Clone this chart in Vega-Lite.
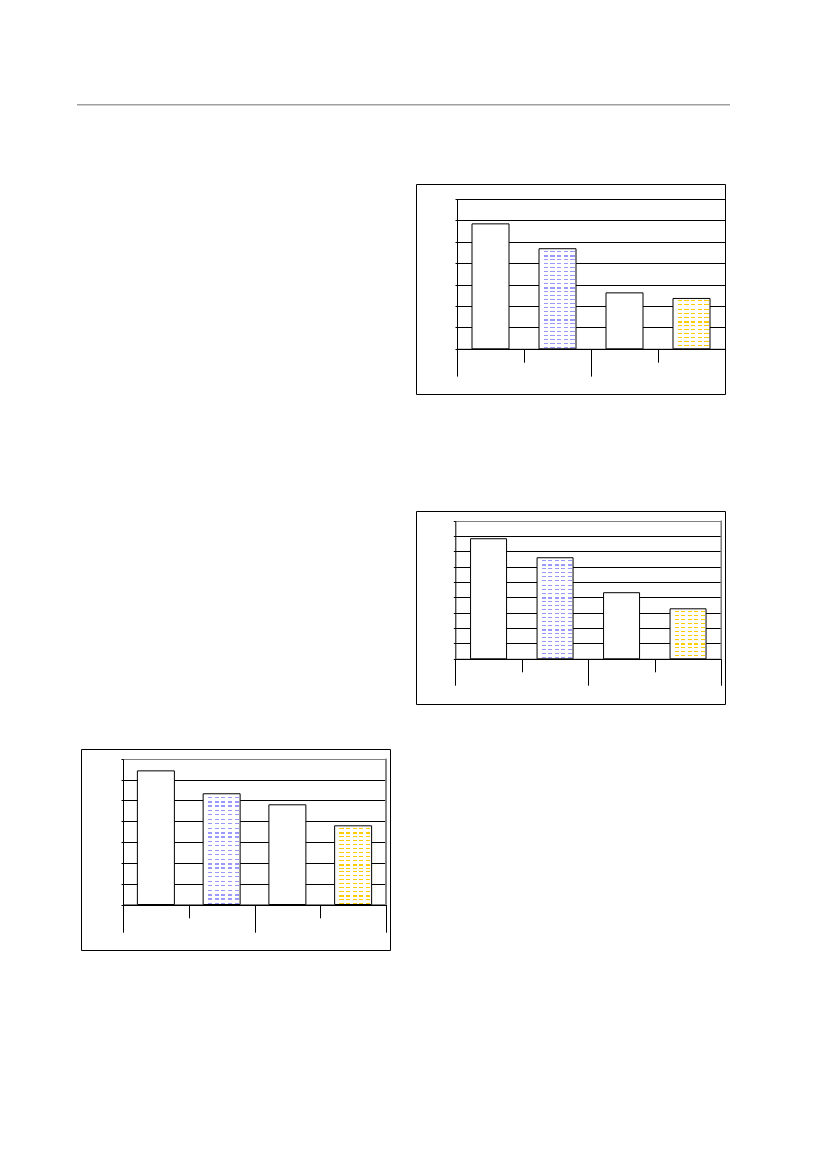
{
  "$schema": "https://vega.github.io/schema/vega-lite/v6.json",
  "padding": 0,
  "background": "white",
  "config": {
    "view": {"stroke": null},
    "axis": {"labels": false, "domainColor": "black", "tickColor": "black", "gridColor": "black", "domainWidth": 1, "tickWidth": 1, "gridWidth": 1}
  },
  "datasets": {
    "c1": [{"slot": 0, "value": 5.83}, {"slot": 1, "value": 4.67}, {"slot": 2, "value": 2.61}, {"slot": 3, "value": 2.35}],
    "c2": [{"slot": 0, "value": 7.83}, {"slot": 1, "value": 6.59}, {"slot": 2, "value": 4.31}, {"slot": 3, "value": 3.26}],
    "c3": [{"slot": 0, "value": 6.42}, {"slot": 1, "value": 5.32}, {"slot": 2, "value": 4.79}, {"slot": 3, "value": 3.78}]
  },
  "spacing": 0,
  "vconcat": [
    {"width": 1, "height": 103.3, "data": {"values": []}, "mark": "rule", "encoding": {}},
    {
      "bounds": "flush",
      "spacing": 0,
      "hconcat": [
        {"width": 77, "height": 1.4, "data": {"values": []}, "mark": "rule", "encoding": {}},
        {"width": 653, "height": 1.4, "data": {"values": []}, "mark": "rule", "encoding": {}, "view": {"fill": "#a0a0a0", "stroke": null}}
      ]
    },
    {"width": 1, "height": 76.6, "data": {"values": []}, "mark": "rule", "encoding": {}},
    {
      "bounds": "flush",
      "spacing": 0,
      "hconcat": [
        {"width": 416, "height": 210, "data": {"values": []}, "mark": "rule", "encoding": {}},
        {
          "width": 309,
          "height": 210,
          "view": {"stroke": "black", "strokeWidth": 1},
          "data": {"name": "c1"},
          "encoding": {
            "x": {
              "field": "slot", "type": "quantitative",
              "scale": {"domain": [-0.5, 3.5], "range": [41, 309], "nice": false, "zero": false, "padding": 0},
              "axis": {"orient": "bottom", "offset": -45.2, "values": [-0.5, 0.5, 1.5, 2.5, 3.5], "title": null, "grid": false,
                "tickSize": {"condition": {"test": "datum.value == 0.5 || datum.value == 2.5", "value": 13.4}, "value": 27.3}}
            },
            "y": {
              "field": "value", "type": "quantitative",
              "scale": {"domain": [0, 7], "range": [164.8, 14.8], "nice": false, "zero": false, "padding": 0},
              "axis": {"orient": "left", "offset": -41, "values": [0, 1, 2, 3, 4, 5, 6, 7], "title": null, "grid": true, "tickSize": 2}
            }
          },
          "layer": [
            {
              "transform": [{"filter": "datum.slot == 1"}],
              "mark": {"type": "bar", "orient": "vertical", "width": 37, "strokeWidth": 0, "fill": {"gradient": "linear", "x1": 0, "y1": 0, "x2": 0, "y2": 1, "stops": [
                {"offset": 0.025, "color": "#fff"}, {"offset": 0.025, "color": "#99f"}, {"offset": 0.035, "color": "#99f"}, {"offset": 0.035, "color": "#fff"},
                {"offset": 0.065, "color": "#fff"}, {"offset": 0.065, "color": "#99f"}, {"offset": 0.085, "color": "#99f"}, {"offset": 0.085, "color": "#fff"},
                {"offset": 0.105, "color": "#fff"}, {"offset": 0.105, "color": "#99f"}, {"offset": 0.115, "color": "#99f"}, {"offset": 0.115, "color": "#fff"},
                {"offset": 0.145, "color": "#fff"}, {"offset": 0.145, "color": "#99f"}, {"offset": 0.155, "color": "#99f"}, {"offset": 0.155, "color": "#fff"},
                {"offset": 0.185, "color": "#fff"}, {"offset": 0.185, "color": "#99f"}, {"offset": 0.195, "color": "#99f"}, {"offset": 0.195, "color": "#fff"},
                {"offset": 0.225, "color": "#fff"}, {"offset": 0.225, "color": "#99f"}, {"offset": 0.235, "color": "#99f"}, {"offset": 0.235, "color": "#fff"},
                {"offset": 0.265, "color": "#fff"}, {"offset": 0.265, "color": "#99f"}, {"offset": 0.275, "color": "#99f"}, {"offset": 0.275, "color": "#fff"},
                {"offset": 0.305, "color": "#fff"}, {"offset": 0.305, "color": "#99f"}, {"offset": 0.315, "color": "#99f"}, {"offset": 0.315, "color": "#fff"},
                {"offset": 0.345, "color": "#fff"}, {"offset": 0.345, "color": "#99f"}, {"offset": 0.355, "color": "#99f"}, {"offset": 0.355, "color": "#fff"},
                {"offset": 0.385, "color": "#fff"}, {"offset": 0.385, "color": "#99f"}, {"offset": 0.405, "color": "#99f"}, {"offset": 0.405, "color": "#fff"},
                {"offset": 0.425, "color": "#fff"}, {"offset": 0.425, "color": "#99f"}, {"offset": 0.435, "color": "#99f"}, {"offset": 0.435, "color": "#fff"},
                {"offset": 0.465, "color": "#fff"}, {"offset": 0.465, "color": "#99f"}, {"offset": 0.475, "color": "#99f"}, {"offset": 0.475, "color": "#fff"},
                {"offset": 0.505, "color": "#fff"}, {"offset": 0.505, "color": "#99f"}, {"offset": 0.515, "color": "#99f"}, {"offset": 0.515, "color": "#fff"},
                {"offset": 0.545, "color": "#fff"}, {"offset": 0.545, "color": "#99f"}, {"offset": 0.555, "color": "#99f"}, {"offset": 0.555, "color": "#fff"},
                {"offset": 0.585, "color": "#fff"}, {"offset": 0.585, "color": "#99f"}, {"offset": 0.595, "color": "#99f"}, {"offset": 0.595, "color": "#fff"},
                {"offset": 0.625, "color": "#fff"}, {"offset": 0.625, "color": "#99f"}, {"offset": 0.635, "color": "#99f"}, {"offset": 0.635, "color": "#fff"},
                {"offset": 0.665, "color": "#fff"}, {"offset": 0.665, "color": "#99f"}, {"offset": 0.675, "color": "#99f"}, {"offset": 0.675, "color": "#fff"},
                {"offset": 0.705, "color": "#fff"}, {"offset": 0.705, "color": "#99f"}, {"offset": 0.725, "color": "#99f"}, {"offset": 0.725, "color": "#fff"},
                {"offset": 0.745, "color": "#fff"}, {"offset": 0.745, "color": "#99f"}, {"offset": 0.755, "color": "#99f"}, {"offset": 0.755, "color": "#fff"},
                {"offset": 0.785, "color": "#fff"}, {"offset": 0.785, "color": "#99f"}, {"offset": 0.795, "color": "#99f"}, {"offset": 0.795, "color": "#fff"},
                {"offset": 0.825, "color": "#fff"}, {"offset": 0.825, "color": "#99f"}, {"offset": 0.835, "color": "#99f"}, {"offset": 0.835, "color": "#fff"},
                {"offset": 0.865, "color": "#fff"}, {"offset": 0.865, "color": "#99f"}, {"offset": 0.875, "color": "#99f"}, {"offset": 0.875, "color": "#fff"},
                {"offset": 0.905, "color": "#fff"}, {"offset": 0.905, "color": "#99f"}, {"offset": 0.915, "color": "#99f"}, {"offset": 0.915, "color": "#fff"},
                {"offset": 0.945, "color": "#fff"}, {"offset": 0.945, "color": "#99f"}, {"offset": 0.955, "color": "#99f"}, {"offset": 0.955, "color": "#fff"},
                {"offset": 0.985, "color": "#fff"}, {"offset": 0.985, "color": "#99f"}, {"offset": 0.995, "color": "#99f"}, {"offset": 0.995, "color": "#fff"}
              ]}}
            },
            {
              "transform": [{"filter": "datum.slot == 3"}],
              "mark": {"type": "bar", "orient": "vertical", "width": 37, "strokeWidth": 0, "fill": {"gradient": "linear", "x1": 0, "y1": 0, "x2": 0, "y2": 1, "stops": [
                {"offset": 0.04, "color": "#fff"}, {"offset": 0.04, "color": "#fc0"}, {"offset": 0.06, "color": "#fc0"}, {"offset": 0.06, "color": "#fff"},
                {"offset": 0.12, "color": "#fff"}, {"offset": 0.12, "color": "#fc0"}, {"offset": 0.14, "color": "#fc0"}, {"offset": 0.14, "color": "#fff"},
                {"offset": 0.20, "color": "#fff"}, {"offset": 0.20, "color": "#fc0"}, {"offset": 0.22, "color": "#fc0"}, {"offset": 0.22, "color": "#fff"},
                {"offset": 0.28, "color": "#fff"}, {"offset": 0.28, "color": "#fc0"}, {"offset": 0.30, "color": "#fc0"}, {"offset": 0.30, "color": "#fff"},
                {"offset": 0.36, "color": "#fff"}, {"offset": 0.36, "color": "#fc0"}, {"offset": 0.38, "color": "#fc0"}, {"offset": 0.38, "color": "#fff"},
                {"offset": 0.44, "color": "#fff"}, {"offset": 0.44, "color": "#fc0"}, {"offset": 0.48, "color": "#fc0"}, {"offset": 0.48, "color": "#fff"},
                {"offset": 0.52, "color": "#fff"}, {"offset": 0.52, "color": "#fc0"}, {"offset": 0.54, "color": "#fc0"}, {"offset": 0.54, "color": "#fff"},
                {"offset": 0.60, "color": "#fff"}, {"offset": 0.60, "color": "#fc0"}, {"offset": 0.62, "color": "#fc0"}, {"offset": 0.62, "color": "#fff"},
                {"offset": 0.68, "color": "#fff"}, {"offset": 0.68, "color": "#fc0"}, {"offset": 0.70, "color": "#fc0"}, {"offset": 0.70, "color": "#fff"},
                {"offset": 0.76, "color": "#fff"}, {"offset": 0.76, "color": "#fc0"}, {"offset": 0.78, "color": "#fc0"}, {"offset": 0.78, "color": "#fff"},
                {"offset": 0.84, "color": "#fff"}, {"offset": 0.84, "color": "#fc0"}, {"offset": 0.86, "color": "#fc0"}, {"offset": 0.86, "color": "#fff"},
                {"offset": 0.92, "color": "#fff"}, {"offset": 0.92, "color": "#fc0"}, {"offset": 0.94, "color": "#fc0"}, {"offset": 0.94, "color": "#fff"}
              ]}}
            },
            {
              "transform": [{"filter": "datum.slot == 1 || datum.slot == 3"}],
              "mark": {"type": "bar", "orient": "vertical", "width": 37, "strokeWidth": 0, "fill": {"gradient": "linear", "x1": 0, "y1": 0, "x2": 1, "y2": 0, "stops": [
                {"offset": 0, "color": "#fff"}, {"offset": 0.13, "color": "#fff"}, {"offset": 0.13, "color": "rgba(255,255,255,0)"}, {"offset": 0.24, "color": "rgba(255,255,255,0)"},
                {"offset": 0.24, "color": "#fff"}, {"offset": 0.31, "color": "#fff"}, {"offset": 0.31, "color": "rgba(255,255,255,0)"}, {"offset": 0.42, "color": "rgba(255,255,255,0)"},
                {"offset": 0.42, "color": "#fff"}, {"offset": 0.49, "color": "#fff"}, {"offset": 0.49, "color": "rgba(255,255,255,0)"}, {"offset": 0.60, "color": "rgba(255,255,255,0)"},
                {"offset": 0.60, "color": "#fff"}, {"offset": 0.67, "color": "#fff"}, {"offset": 0.67, "color": "rgba(255,255,255,0)"}, {"offset": 0.78, "color": "rgba(255,255,255,0)"},
                {"offset": 0.78, "color": "#fff"}, {"offset": 0.85, "color": "#fff"}, {"offset": 0.85, "color": "rgba(255,255,255,0)"}, {"offset": 0.96, "color": "rgba(255,255,255,0)"},
                {"offset": 0.96, "color": "#fff"}, {"offset": 1, "color": "#fff"}
              ]}}
            },
            {
              "mark": {"type": "bar", "orient": "vertical", "width": 37, "stroke": "black", "strokeWidth": 1},
              "encoding": {"fill": {"condition": {"test": "datum.slot == 1 || datum.slot == 3", "value": "transparent"}, "value": "white"}}
            }
          ]
        }
      ]
    },
    {"width": 1, "height": 115, "data": {"values": []}, "mark": "rule", "encoding": {}},
    {
      "bounds": "flush",
      "spacing": 0,
      "hconcat": [
        {"width": 416, "height": 193, "data": {"values": []}, "mark": "rule", "encoding": {}},
        {
          "width": 309,
          "height": 193,
          "view": {"stroke": "black", "strokeWidth": 1},
          "data": {"name": "c2"},
          "encoding": {
            "x": {
              "field": "slot", "type": "quantitative",
              "scale": {"domain": [-0.5, 3.5], "range": [39.3, 305.3], "nice": false, "zero": false, "padding": 0},
              "axis": {"orient": "bottom", "offset": -45.2, "values": [-0.5, 0.5, 1.5, 2.5, 3.5], "title": null, "grid": false,
                "tickSize": {"condition": {"test": "datum.value == 0.5 || datum.value == 2.5", "value": 13}, "value": 26.4}}
            },
            "y": {
              "field": "value", "type": "quantitative",
              "scale": {"domain": [0, 9], "range": [147.8, 9.8], "nice": false, "zero": false, "padding": 0},
              "axis": {"orient": "left", "offset": -39.3, "values": [0, 1, 2, 3, 4, 5, 6, 7, 8, 9], "title": null, "grid": true, "tickSize": 2,
                "gridColor": {"condition": {"test": "datum.value == 9", "value": "#808080"}, "value": "black"}}
            }
          },
          "layer": [
            {
              "mark": {"type": "rule", "color": "#808080", "strokeWidth": 1},
              "encoding": {"x": {"datum": 3.5}, "y": {"datum": 0}, "y2": {"datum": 9}}
            },
            {
              "transform": [{"filter": "datum.slot == 1"}],
              "mark": {"type": "bar", "orient": "vertical", "width": 36, "strokeWidth": 0, "fill": {"gradient": "linear", "x1": 0, "y1": 0, "x2": 0, "y2": 1, "stops": [
                {"offset": 0.025, "color": "#fff"}, {"offset": 0.025, "color": "#99f"}, {"offset": 0.035, "color": "#99f"}, {"offset": 0.035, "color": "#fff"},
                {"offset": 0.065, "color": "#fff"}, {"offset": 0.065, "color": "#99f"}, {"offset": 0.085, "color": "#99f"}, {"offset": 0.085, "color": "#fff"},
                {"offset": 0.105, "color": "#fff"}, {"offset": 0.105, "color": "#99f"}, {"offset": 0.115, "color": "#99f"}, {"offset": 0.115, "color": "#fff"},
                {"offset": 0.145, "color": "#fff"}, {"offset": 0.145, "color": "#99f"}, {"offset": 0.155, "color": "#99f"}, {"offset": 0.155, "color": "#fff"},
                {"offset": 0.185, "color": "#fff"}, {"offset": 0.185, "color": "#99f"}, {"offset": 0.195, "color": "#99f"}, {"offset": 0.195, "color": "#fff"},
                {"offset": 0.225, "color": "#fff"}, {"offset": 0.225, "color": "#99f"}, {"offset": 0.235, "color": "#99f"}, {"offset": 0.235, "color": "#fff"},
                {"offset": 0.265, "color": "#fff"}, {"offset": 0.265, "color": "#99f"}, {"offset": 0.275, "color": "#99f"}, {"offset": 0.275, "color": "#fff"},
                {"offset": 0.305, "color": "#fff"}, {"offset": 0.305, "color": "#99f"}, {"offset": 0.315, "color": "#99f"}, {"offset": 0.315, "color": "#fff"},
                {"offset": 0.345, "color": "#fff"}, {"offset": 0.345, "color": "#99f"}, {"offset": 0.355, "color": "#99f"}, {"offset": 0.355, "color": "#fff"},
                {"offset": 0.385, "color": "#fff"}, {"offset": 0.385, "color": "#99f"}, {"offset": 0.405, "color": "#99f"}, {"offset": 0.405, "color": "#fff"},
                {"offset": 0.425, "color": "#fff"}, {"offset": 0.425, "color": "#99f"}, {"offset": 0.435, "color": "#99f"}, {"offset": 0.435, "color": "#fff"},
                {"offset": 0.465, "color": "#fff"}, {"offset": 0.465, "color": "#99f"}, {"offset": 0.475, "color": "#99f"}, {"offset": 0.475, "color": "#fff"},
                {"offset": 0.505, "color": "#fff"}, {"offset": 0.505, "color": "#99f"}, {"offset": 0.515, "color": "#99f"}, {"offset": 0.515, "color": "#fff"},
                {"offset": 0.545, "color": "#fff"}, {"offset": 0.545, "color": "#99f"}, {"offset": 0.555, "color": "#99f"}, {"offset": 0.555, "color": "#fff"},
                {"offset": 0.585, "color": "#fff"}, {"offset": 0.585, "color": "#99f"}, {"offset": 0.595, "color": "#99f"}, {"offset": 0.595, "color": "#fff"},
                {"offset": 0.625, "color": "#fff"}, {"offset": 0.625, "color": "#99f"}, {"offset": 0.635, "color": "#99f"}, {"offset": 0.635, "color": "#fff"},
                {"offset": 0.665, "color": "#fff"}, {"offset": 0.665, "color": "#99f"}, {"offset": 0.675, "color": "#99f"}, {"offset": 0.675, "color": "#fff"},
                {"offset": 0.705, "color": "#fff"}, {"offset": 0.705, "color": "#99f"}, {"offset": 0.725, "color": "#99f"}, {"offset": 0.725, "color": "#fff"},
                {"offset": 0.745, "color": "#fff"}, {"offset": 0.745, "color": "#99f"}, {"offset": 0.755, "color": "#99f"}, {"offset": 0.755, "color": "#fff"},
                {"offset": 0.785, "color": "#fff"}, {"offset": 0.785, "color": "#99f"}, {"offset": 0.795, "color": "#99f"}, {"offset": 0.795, "color": "#fff"},
                {"offset": 0.825, "color": "#fff"}, {"offset": 0.825, "color": "#99f"}, {"offset": 0.835, "color": "#99f"}, {"offset": 0.835, "color": "#fff"},
                {"offset": 0.865, "color": "#fff"}, {"offset": 0.865, "color": "#99f"}, {"offset": 0.875, "color": "#99f"}, {"offset": 0.875, "color": "#fff"},
                {"offset": 0.905, "color": "#fff"}, {"offset": 0.905, "color": "#99f"}, {"offset": 0.915, "color": "#99f"}, {"offset": 0.915, "color": "#fff"},
                {"offset": 0.945, "color": "#fff"}, {"offset": 0.945, "color": "#99f"}, {"offset": 0.955, "color": "#99f"}, {"offset": 0.955, "color": "#fff"},
                {"offset": 0.985, "color": "#fff"}, {"offset": 0.985, "color": "#99f"}, {"offset": 0.995, "color": "#99f"}, {"offset": 0.995, "color": "#fff"}
              ]}}
            },
            {
              "transform": [{"filter": "datum.slot == 3"}],
              "mark": {"type": "bar", "orient": "vertical", "width": 36, "strokeWidth": 0, "fill": {"gradient": "linear", "x1": 0, "y1": 0, "x2": 0, "y2": 1, "stops": [
                {"offset": 0.04, "color": "#fff"}, {"offset": 0.04, "color": "#fc0"}, {"offset": 0.06, "color": "#fc0"}, {"offset": 0.06, "color": "#fff"},
                {"offset": 0.12, "color": "#fff"}, {"offset": 0.12, "color": "#fc0"}, {"offset": 0.14, "color": "#fc0"}, {"offset": 0.14, "color": "#fff"},
                {"offset": 0.20, "color": "#fff"}, {"offset": 0.20, "color": "#fc0"}, {"offset": 0.22, "color": "#fc0"}, {"offset": 0.22, "color": "#fff"},
                {"offset": 0.28, "color": "#fff"}, {"offset": 0.28, "color": "#fc0"}, {"offset": 0.30, "color": "#fc0"}, {"offset": 0.30, "color": "#fff"},
                {"offset": 0.36, "color": "#fff"}, {"offset": 0.36, "color": "#fc0"}, {"offset": 0.38, "color": "#fc0"}, {"offset": 0.38, "color": "#fff"},
                {"offset": 0.44, "color": "#fff"}, {"offset": 0.44, "color": "#fc0"}, {"offset": 0.46, "color": "#fc0"}, {"offset": 0.46, "color": "#fff"},
                {"offset": 0.52, "color": "#fff"}, {"offset": 0.52, "color": "#fc0"}, {"offset": 0.54, "color": "#fc0"}, {"offset": 0.54, "color": "#fff"},
                {"offset": 0.60, "color": "#fff"}, {"offset": 0.60, "color": "#fc0"}, {"offset": 0.62, "color": "#fc0"}, {"offset": 0.62, "color": "#fff"},
                {"offset": 0.68, "color": "#fff"}, {"offset": 0.68, "color": "#fc0"}, {"offset": 0.72, "color": "#fc0"}, {"offset": 0.72, "color": "#fff"},
                {"offset": 0.76, "color": "#fff"}, {"offset": 0.76, "color": "#fc0"}, {"offset": 0.78, "color": "#fc0"}, {"offset": 0.78, "color": "#fff"},
                {"offset": 0.84, "color": "#fff"}, {"offset": 0.84, "color": "#fc0"}, {"offset": 0.86, "color": "#fc0"}, {"offset": 0.86, "color": "#fff"},
                {"offset": 0.92, "color": "#fff"}, {"offset": 0.92, "color": "#fc0"}, {"offset": 0.94, "color": "#fc0"}, {"offset": 0.94, "color": "#fff"}
              ]}}
            },
            {
              "transform": [{"filter": "datum.slot == 1 || datum.slot == 3"}],
              "mark": {"type": "bar", "orient": "vertical", "width": 36, "strokeWidth": 0, "fill": {"gradient": "linear", "x1": 0, "y1": 0, "x2": 1, "y2": 0, "stops": [
                {"offset": 0, "color": "#fff"}, {"offset": 0.13, "color": "#fff"}, {"offset": 0.13, "color": "rgba(255,255,255,0)"}, {"offset": 0.24, "color": "rgba(255,255,255,0)"},
                {"offset": 0.24, "color": "#fff"}, {"offset": 0.31, "color": "#fff"}, {"offset": 0.31, "color": "rgba(255,255,255,0)"}, {"offset": 0.42, "color": "rgba(255,255,255,0)"},
                {"offset": 0.42, "color": "#fff"}, {"offset": 0.49, "color": "#fff"}, {"offset": 0.49, "color": "rgba(255,255,255,0)"}, {"offset": 0.60, "color": "rgba(255,255,255,0)"},
                {"offset": 0.60, "color": "#fff"}, {"offset": 0.67, "color": "#fff"}, {"offset": 0.67, "color": "rgba(255,255,255,0)"}, {"offset": 0.78, "color": "rgba(255,255,255,0)"},
                {"offset": 0.78, "color": "#fff"}, {"offset": 0.85, "color": "#fff"}, {"offset": 0.85, "color": "rgba(255,255,255,0)"}, {"offset": 0.96, "color": "rgba(255,255,255,0)"},
                {"offset": 0.96, "color": "#fff"}, {"offset": 1, "color": "#fff"}
              ]}}
            },
            {
              "mark": {"type": "bar", "orient": "vertical", "width": 36, "stroke": "black", "strokeWidth": 1},
              "encoding": {"fill": {"condition": {"test": "datum.slot == 1 || datum.slot == 3", "value": "transparent"}, "value": "white"}}
            }
          ]
        }
      ]
    },
    {"width": 1, "height": 43, "data": {"values": []}, "mark": "rule", "encoding": {}},
    {
      "bounds": "flush",
      "spacing": 0,
      "hconcat": [
        {"width": 81, "height": 201, "data": {"values": []}, "mark": "rule", "encoding": {}},
        {
          "width": 309,
          "height": 201,
          "view": {"stroke": "black", "strokeWidth": 1},
          "data": {"name": "c3"},
          "encoding": {
            "x": {
              "field": "slot", "type": "quantitative",
              "scale": {"domain": [-0.5, 3.5], "range": [42, 305], "nice": false, "zero": false, "padding": 0},
              "axis": {"orient": "bottom", "offset": -45.5, "values": [-0.5, 0.5, 1.5, 2.5, 3.5], "title": null, "grid": false,
                "tickSize": {"condition": {"test": "datum.value == 0.5 || datum.value == 2.5", "value": 13.3}, "value": 27.7}}
            },
            "y": {
              "field": "value", "type": "quantitative",
              "scale": {"domain": [0, 7], "range": [155.5, 9.8], "nice": false, "zero": false, "padding": 0},
              "axis": {"orient": "left", "offset": -42, "values": [0, 1, 2, 3, 4, 5, 6, 7], "title": null, "grid": true, "tickSize": 2,
                "gridColor": {"condition": {"test": "datum.value == 7", "value": "#808080"}, "value": "black"}}
            }
          },
          "layer": [
            {
              "mark": {"type": "rule", "color": "#808080", "strokeWidth": 1},
              "encoding": {"x": {"datum": 3.5}, "y": {"datum": 0}, "y2": {"datum": 7}}
            },
            {
              "transform": [{"filter": "datum.slot == 1"}],
              "mark": {"type": "bar", "orient": "vertical", "width": 37, "strokeWidth": 0, "fill": {"gradient": "linear", "x1": 0, "y1": 0, "x2": 0, "y2": 1, "stops": [
                {"offset": 0.025, "color": "#fff"}, {"offset": 0.025, "color": "#99f"}, {"offset": 0.035, "color": "#99f"}, {"offset": 0.035, "color": "#fff"},
                {"offset": 0.065, "color": "#fff"}, {"offset": 0.065, "color": "#99f"}, {"offset": 0.085, "color": "#99f"}, {"offset": 0.085, "color": "#fff"},
                {"offset": 0.105, "color": "#fff"}, {"offset": 0.105, "color": "#99f"}, {"offset": 0.115, "color": "#99f"}, {"offset": 0.115, "color": "#fff"},
                {"offset": 0.145, "color": "#fff"}, {"offset": 0.145, "color": "#99f"}, {"offset": 0.155, "color": "#99f"}, {"offset": 0.155, "color": "#fff"},
                {"offset": 0.185, "color": "#fff"}, {"offset": 0.185, "color": "#99f"}, {"offset": 0.195, "color": "#99f"}, {"offset": 0.195, "color": "#fff"},
                {"offset": 0.225, "color": "#fff"}, {"offset": 0.225, "color": "#99f"}, {"offset": 0.235, "color": "#99f"}, {"offset": 0.235, "color": "#fff"},
                {"offset": 0.265, "color": "#fff"}, {"offset": 0.265, "color": "#99f"}, {"offset": 0.275, "color": "#99f"}, {"offset": 0.275, "color": "#fff"},
                {"offset": 0.305, "color": "#fff"}, {"offset": 0.305, "color": "#99f"}, {"offset": 0.315, "color": "#99f"}, {"offset": 0.315, "color": "#fff"},
                {"offset": 0.345, "color": "#fff"}, {"offset": 0.345, "color": "#99f"}, {"offset": 0.365, "color": "#99f"}, {"offset": 0.365, "color": "#fff"},
                {"offset": 0.385, "color": "#fff"}, {"offset": 0.385, "color": "#99f"}, {"offset": 0.395, "color": "#99f"}, {"offset": 0.395, "color": "#fff"},
                {"offset": 0.425, "color": "#fff"}, {"offset": 0.425, "color": "#99f"}, {"offset": 0.435, "color": "#99f"}, {"offset": 0.435, "color": "#fff"},
                {"offset": 0.465, "color": "#fff"}, {"offset": 0.465, "color": "#99f"}, {"offset": 0.475, "color": "#99f"}, {"offset": 0.475, "color": "#fff"},
                {"offset": 0.505, "color": "#fff"}, {"offset": 0.505, "color": "#99f"}, {"offset": 0.515, "color": "#99f"}, {"offset": 0.515, "color": "#fff"},
                {"offset": 0.545, "color": "#fff"}, {"offset": 0.545, "color": "#99f"}, {"offset": 0.555, "color": "#99f"}, {"offset": 0.555, "color": "#fff"},
                {"offset": 0.585, "color": "#fff"}, {"offset": 0.585, "color": "#99f"}, {"offset": 0.595, "color": "#99f"}, {"offset": 0.595, "color": "#fff"},
                {"offset": 0.625, "color": "#fff"}, {"offset": 0.625, "color": "#99f"}, {"offset": 0.645, "color": "#99f"}, {"offset": 0.645, "color": "#fff"},
                {"offset": 0.665, "color": "#fff"}, {"offset": 0.665, "color": "#99f"}, {"offset": 0.675, "color": "#99f"}, {"offset": 0.675, "color": "#fff"},
                {"offset": 0.705, "color": "#fff"}, {"offset": 0.705, "color": "#99f"}, {"offset": 0.715, "color": "#99f"}, {"offset": 0.715, "color": "#fff"},
                {"offset": 0.745, "color": "#fff"}, {"offset": 0.745, "color": "#99f"}, {"offset": 0.755, "color": "#99f"}, {"offset": 0.755, "color": "#fff"},
                {"offset": 0.785, "color": "#fff"}, {"offset": 0.785, "color": "#99f"}, {"offset": 0.795, "color": "#99f"}, {"offset": 0.795, "color": "#fff"},
                {"offset": 0.825, "color": "#fff"}, {"offset": 0.825, "color": "#99f"}, {"offset": 0.835, "color": "#99f"}, {"offset": 0.835, "color": "#fff"},
                {"offset": 0.865, "color": "#fff"}, {"offset": 0.865, "color": "#99f"}, {"offset": 0.875, "color": "#99f"}, {"offset": 0.875, "color": "#fff"},
                {"offset": 0.905, "color": "#fff"}, {"offset": 0.905, "color": "#99f"}, {"offset": 0.925, "color": "#99f"}, {"offset": 0.925, "color": "#fff"},
                {"offset": 0.945, "color": "#fff"}, {"offset": 0.945, "color": "#99f"}, {"offset": 0.955, "color": "#99f"}, {"offset": 0.955, "color": "#fff"},
                {"offset": 0.985, "color": "#fff"}, {"offset": 0.985, "color": "#99f"}, {"offset": 0.995, "color": "#99f"}, {"offset": 0.995, "color": "#fff"}
              ]}}
            },
            {
              "transform": [{"filter": "datum.slot == 3"}],
              "mark": {"type": "bar", "orient": "vertical", "width": 37, "strokeWidth": 0, "fill": {"gradient": "linear", "x1": 0, "y1": 0, "x2": 0, "y2": 1, "stops": [
                {"offset": 0.03, "color": "#fff"}, {"offset": 0.03, "color": "#fc0"}, {"offset": 0.043, "color": "#fc0"}, {"offset": 0.043, "color": "#fff"},
                {"offset": 0.08, "color": "#fff"}, {"offset": 0.08, "color": "#fc0"}, {"offset": 0.106, "color": "#fc0"}, {"offset": 0.106, "color": "#fff"},
                {"offset": 0.13, "color": "#fff"}, {"offset": 0.13, "color": "#fc0"}, {"offset": 0.143, "color": "#fc0"}, {"offset": 0.143, "color": "#fff"},
                {"offset": 0.18, "color": "#fff"}, {"offset": 0.18, "color": "#fc0"}, {"offset": 0.193, "color": "#fc0"}, {"offset": 0.193, "color": "#fff"},
                {"offset": 0.23, "color": "#fff"}, {"offset": 0.23, "color": "#fc0"}, {"offset": 0.243, "color": "#fc0"}, {"offset": 0.243, "color": "#fff"},
                {"offset": 0.28, "color": "#fff"}, {"offset": 0.28, "color": "#fc0"}, {"offset": 0.293, "color": "#fc0"}, {"offset": 0.293, "color": "#fff"},
                {"offset": 0.33, "color": "#fff"}, {"offset": 0.33, "color": "#fc0"}, {"offset": 0.343, "color": "#fc0"}, {"offset": 0.343, "color": "#fff"},
                {"offset": 0.38, "color": "#fff"}, {"offset": 0.38, "color": "#fc0"}, {"offset": 0.393, "color": "#fc0"}, {"offset": 0.393, "color": "#fff"},
                {"offset": 0.43, "color": "#fff"}, {"offset": 0.43, "color": "#fc0"}, {"offset": 0.443, "color": "#fc0"}, {"offset": 0.443, "color": "#fff"},
                {"offset": 0.48, "color": "#fff"}, {"offset": 0.48, "color": "#fc0"}, {"offset": 0.506, "color": "#fc0"}, {"offset": 0.506, "color": "#fff"},
                {"offset": 0.53, "color": "#fff"}, {"offset": 0.53, "color": "#fc0"}, {"offset": 0.543, "color": "#fc0"}, {"offset": 0.543, "color": "#fff"},
                {"offset": 0.58, "color": "#fff"}, {"offset": 0.58, "color": "#fc0"}, {"offset": 0.593, "color": "#fc0"}, {"offset": 0.593, "color": "#fff"},
                {"offset": 0.63, "color": "#fff"}, {"offset": 0.63, "color": "#fc0"}, {"offset": 0.643, "color": "#fc0"}, {"offset": 0.643, "color": "#fff"},
                {"offset": 0.68, "color": "#fff"}, {"offset": 0.68, "color": "#fc0"}, {"offset": 0.693, "color": "#fc0"}, {"offset": 0.693, "color": "#fff"},
                {"offset": 0.73, "color": "#fff"}, {"offset": 0.73, "color": "#fc0"}, {"offset": 0.743, "color": "#fc0"}, {"offset": 0.743, "color": "#fff"},
                {"offset": 0.78, "color": "#fff"}, {"offset": 0.78, "color": "#fc0"}, {"offset": 0.793, "color": "#fc0"}, {"offset": 0.793, "color": "#fff"},
                {"offset": 0.83, "color": "#fff"}, {"offset": 0.83, "color": "#fc0"}, {"offset": 0.843, "color": "#fc0"}, {"offset": 0.843, "color": "#fff"},
                {"offset": 0.88, "color": "#fff"}, {"offset": 0.88, "color": "#fc0"}, {"offset": 0.906, "color": "#fc0"}, {"offset": 0.906, "color": "#fff"},
                {"offset": 0.93, "color": "#fff"}, {"offset": 0.93, "color": "#fc0"}, {"offset": 0.943, "color": "#fc0"}, {"offset": 0.943, "color": "#fff"},
                {"offset": 0.98, "color": "#fff"}, {"offset": 0.98, "color": "#fc0"}, {"offset": 0.993, "color": "#fc0"}, {"offset": 0.993, "color": "#fff"}
              ]}}
            },
            {
              "transform": [{"filter": "datum.slot == 1 || datum.slot == 3"}],
              "mark": {"type": "bar", "orient": "vertical", "width": 37, "strokeWidth": 0, "fill": {"gradient": "linear", "x1": 0, "y1": 0, "x2": 1, "y2": 0, "stops": [
                {"offset": 0, "color": "#fff"}, {"offset": 0.13, "color": "#fff"}, {"offset": 0.13, "color": "rgba(255,255,255,0)"}, {"offset": 0.24, "color": "rgba(255,255,255,0)"},
                {"offset": 0.24, "color": "#fff"}, {"offset": 0.31, "color": "#fff"}, {"offset": 0.31, "color": "rgba(255,255,255,0)"}, {"offset": 0.42, "color": "rgba(255,255,255,0)"},
                {"offset": 0.42, "color": "#fff"}, {"offset": 0.49, "color": "#fff"}, {"offset": 0.49, "color": "rgba(255,255,255,0)"}, {"offset": 0.60, "color": "rgba(255,255,255,0)"},
                {"offset": 0.60, "color": "#fff"}, {"offset": 0.67, "color": "#fff"}, {"offset": 0.67, "color": "rgba(255,255,255,0)"}, {"offset": 0.78, "color": "rgba(255,255,255,0)"},
                {"offset": 0.78, "color": "#fff"}, {"offset": 0.85, "color": "#fff"}, {"offset": 0.85, "color": "rgba(255,255,255,0)"}, {"offset": 0.96, "color": "rgba(255,255,255,0)"},
                {"offset": 0.96, "color": "#fff"}, {"offset": 1, "color": "#fff"}
              ]}}
            },
            {
              "mark": {"type": "bar", "orient": "vertical", "width": 37, "stroke": "black", "strokeWidth": 1},
              "encoding": {"fill": {"condition": {"test": "datum.slot == 1 || datum.slot == 3", "value": "transparent"}, "value": "white"}}
            }
          ]
        }
      ]
    }
  ]
}
